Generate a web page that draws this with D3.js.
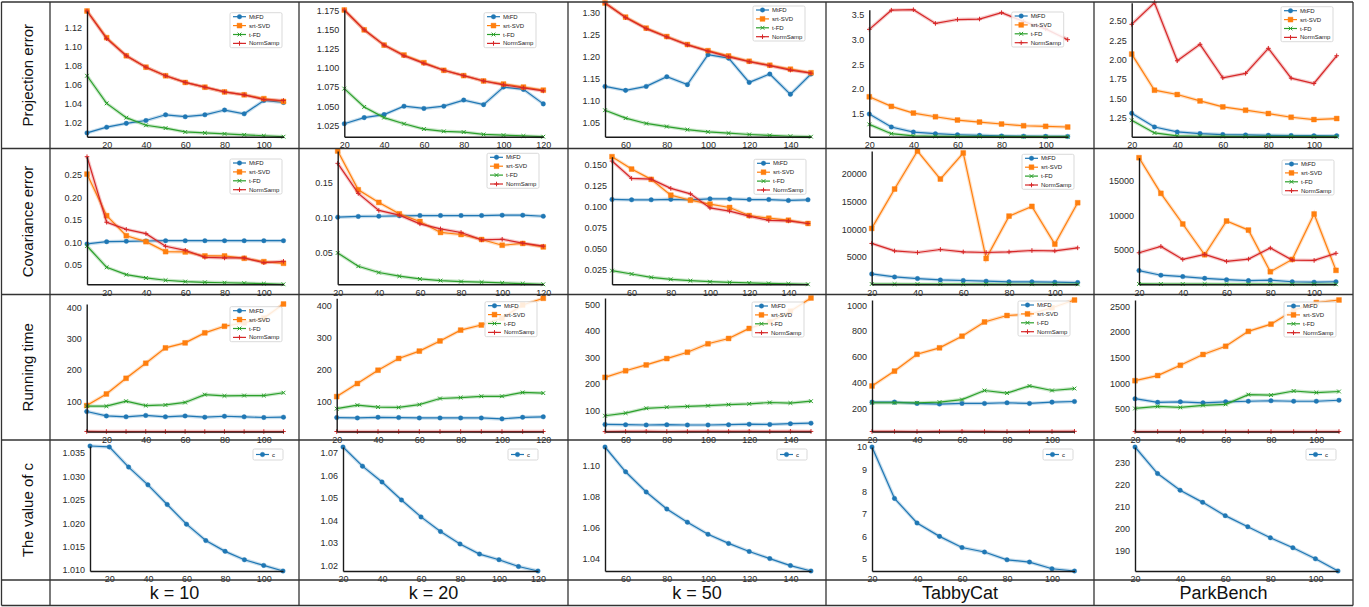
<!DOCTYPE html>
<html>
<head>
<meta charset="utf-8">
<script src="https://cdn.jsdelivr.net/npm/d3@7"></script>
<style>
  body { margin: 0; background: #fff; }
  svg text { font-family: "Liberation Sans", Arial, sans-serif; }
</style>
</head>
<body>
<div id="chart"></div>
<script>
const width = 1369, height = 607;

// ---- data ----
const rowNames = ["Projection error", "Covariance error", "Running time", "The value of c"];
const colNames = ["k = 10", "k = 20", "k = 50", "TabbyCat", "ParkBench"];
const methods = ["MtFD", "srt-SVD", "t-FD", "NormSamp"];

const xK10 = [10, 20, 30, 40, 50, 60, 70, 80, 90, 100, 110];
const xK20 = [20, 30, 40, 50, 60, 70, 80, 90, 100, 110, 120];
const xK50 = [50, 60, 70, 80, 90, 100, 110, 120, 130, 140, 150];
const xTabby = [20, 30, 40, 50, 60, 70, 80, 90, 100, 110];
const xPark = [20, 30, 40, 50, 60, 70, 80, 90, 100, 110];

// series order: MtFD, srt-SVD, t-FD, NormSamp
const projK10 = [
  [1.009, 1.015, 1.019, 1.022, 1.028, 1.026, 1.028, 1.033, 1.029, 1.043, 1.041],
  [1.137, 1.109, 1.090, 1.078, 1.069, 1.062, 1.057, 1.052, 1.049, 1.045, 1.042],
  [1.069, 1.040, 1.025, 1.017, 1.014, 1.010, 1.009, 1.008, 1.007, 1.006, 1.005],
  [1.137, 1.108, 1.090, 1.078, 1.069, 1.062, 1.057, 1.052, 1.049, 1.044, 1.043]
];
const projK20 = [
  [1.027, 1.035, 1.039, 1.050, 1.047, 1.050, 1.058, 1.052, 1.075, 1.072, 1.053],
  [1.176, 1.150, 1.130, 1.117, 1.107, 1.097, 1.090, 1.083, 1.079, 1.075, 1.071],
  [1.073, 1.049, 1.035, 1.027, 1.020, 1.017, 1.016, 1.013, 1.012, 1.011, 1.010],
  [1.176, 1.150, 1.130, 1.116, 1.106, 1.097, 1.090, 1.083, 1.078, 1.074, 1.070]
];
const projK50 = [
  [1.133, 1.124, 1.133, 1.155, 1.137, 1.205, 1.197, 1.142, 1.161, 1.115, 1.161],
  [1.322, 1.290, 1.265, 1.246, 1.228, 1.214, 1.202, 1.190, 1.181, 1.172, 1.164],
  [1.079, 1.061, 1.049, 1.042, 1.035, 1.030, 1.027, 1.024, 1.022, 1.020, 1.019],
  [1.322, 1.289, 1.264, 1.245, 1.227, 1.213, 1.200, 1.189, 1.180, 1.170, 1.163]
];
const projTabby = [
  [1.486, 1.222, 1.120, 1.086, 1.065, 1.052, 1.040, 1.035, 1.032, 1.030],
  [1.837, 1.642, 1.506, 1.431, 1.364, 1.323, 1.283, 1.248, 1.236, 1.222],
  [1.276, 1.086, 1.040, 1.032, 1.030, 1.028, 1.027, 1.026, 1.025, 1.025],
  [3.21, 3.60, 3.61, 3.33, 3.41, 3.42, 3.55, 3.37, 3.22, 3.00]
];
const projPark = [
  [1.306, 1.128, 1.064, 1.043, 1.030, 1.025, 1.020, 1.017, 1.015, 1.014],
  [2.072, 1.604, 1.548, 1.465, 1.388, 1.345, 1.302, 1.254, 1.224, 1.237],
  [1.215, 1.051, 1.012, 1.008, 1.005, 1.004, 1.003, 1.003, 1.002, 1.002],
  [2.457, 2.737, 1.985, 2.198, 1.765, 1.822, 2.146, 1.760, 1.691, 2.050]
];

const covK10 = [
  [0.0967, 0.1018, 0.1026, 0.1033, 0.104, 0.104, 0.104, 0.104, 0.104, 0.104, 0.104],
  [0.252, 0.1596, 0.115, 0.1018, 0.0796, 0.0789, 0.070, 0.070, 0.0648, 0.0574, 0.0537],
  [0.0922, 0.0448, 0.0285, 0.0211, 0.016, 0.013, 0.0115, 0.0105, 0.0095, 0.0085, 0.007],
  [0.2907, 0.145, 0.129, 0.1196, 0.0915, 0.0826, 0.067, 0.0656, 0.0656, 0.055, 0.058]
];
const covK20 = [
  [0.1007, 0.1017, 0.102, 0.1026, 0.103, 0.103, 0.103, 0.103, 0.1035, 0.1035, 0.102],
  [0.1945, 0.1395, 0.1216, 0.1054, 0.0946, 0.079, 0.0761, 0.069, 0.0609, 0.0634, 0.0585],
  [0.050, 0.0311, 0.0222, 0.017, 0.0131, 0.0108, 0.0094, 0.0085, 0.0075, 0.0065, 0.0055],
  [0.177, 0.1344, 0.1102, 0.1036, 0.0912, 0.0841, 0.079, 0.0685, 0.0694, 0.0638, 0.0595]
];
const covK50 = [
  [0.1089, 0.1085, 0.1085, 0.109, 0.1085, 0.1096, 0.1095, 0.1088, 0.1088, 0.1077, 0.1085],
  [0.160, 0.1452, 0.1329, 0.114, 0.108, 0.1033, 0.0993, 0.0897, 0.0865, 0.0841, 0.0802],
  [0.0238, 0.0198, 0.0158, 0.0134, 0.0118, 0.0106, 0.0098, 0.0091, 0.0085, 0.0081, 0.0075],
  [0.1548, 0.134, 0.1332, 0.1221, 0.1156, 0.0988, 0.0949, 0.0889, 0.0838, 0.0833, 0.0802]
];
const covTabby = [
  [1910, 1370, 1070, 830, 720, 600, 470, 470, 410, 350],
  [10150, 17280, 24170, 19090, 23810, 4700, 12380, 14140, 7300, 14800],
  [80, 70, 60, 55, 50, 45, 40, 38, 35, 30],
  [7430, 6080, 5790, 6330, 5900, 5790, 5900, 6150, 6080, 6630]
];
const covPark = [
  [2040, 1370, 1170, 920, 730, 590, 650, 430, 370, 430],
  [18320, 13180, 8760, 4320, 9190, 7880, 1870, 3650, 10200, 2070],
  [110, 100, 95, 90, 85, 80, 75, 70, 65, 60],
  [4610, 5530, 3650, 4380, 3370, 3700, 5290, 3560, 3510, 4530]
];

const timeK10 = [
  [67, 53, 50, 54.5, 50, 53, 49, 52, 50, 48, 49],
  [86, 123, 173, 221, 270, 286, 318, 339, 350, 365, 410],
  [84, 84, 100, 86, 88, 96, 121, 117, 118, 118, 127],
  [3.5, 3.2, 3.1, 3.3, 3.0, 3.2, 3.1, 3.2, 3.0, 3.1, 3.2]
];
const timeK20 = [
  [49, 48, 50, 49, 48, 48, 48, 48, 45, 50, 51.5],
  [115, 156, 198, 235, 258, 290, 324, 340, 362, 403, 424],
  [77, 88, 82, 81, 90, 109, 112, 116, 116, 128, 126],
  [5.3, 5.1, 5.2, 5.0, 5.2, 5.1, 5.3, 5.2, 5.1, 5.2, 5.3]
];
const timeK50 = [
  [47, 46, 45, 46, 45, 45, 46, 48, 47, 50, 52],
  [225, 250, 272, 296, 320, 352, 372, 410, 435, 475, 525],
  [80, 90, 108, 112, 115, 118, 122, 125, 130, 128, 135],
  [20, 20.5, 21, 20.3, 20.6, 21, 20.8, 21.2, 20.5, 21, 20.7]
];
const timeTabby = [
  [250, 250, 240, 235, 240, 240, 245, 240, 250, 255],
  [375, 490, 620, 670, 760, 870, 920, 930, 980, 1040],
  [245, 245, 245, 250, 270, 340, 320, 375, 340, 355],
  [23, 23, 22, 23, 24, 23, 22, 23, 23, 24]
];
const timePark = [
  [700, 630, 640, 620, 640, 650, 660, 650, 650, 670],
  [1050, 1150, 1350, 1560, 1720, 2010, 2150, 2420, 2570, 2620],
  [510, 550, 530, 570, 590, 780, 770, 850, 820, 840],
  [60, 62, 61, 60, 62, 61, 60, 61, 62, 61]
];

const cK10 = [1.0365, 1.0363, 1.032, 1.0282, 1.024, 1.0198, 1.0163, 1.014, 1.0122, 1.011, 1.0098];
const cK20 = [1.0725, 1.064, 1.057, 1.049, 1.0415, 1.035, 1.0295, 1.025, 1.0225, 1.0195, 1.0175];
const cK50 = [1.112, 1.096, 1.083, 1.072, 1.0635, 1.0557, 1.0498, 1.0446, 1.040, 1.0355, 1.032];
const cTabby = [10.0, 7.7, 6.6, 6.0, 5.5, 5.3, 4.95, 4.85, 4.55, 4.45];
const cPark = [237, 225, 217.5, 212, 206, 201, 196, 191.5, 186.5, 181];

// tick values
const xTicksK10 = [20, 40, 60, 80, 100];
const xTicksK20 = [20, 40, 60, 80, 100, 120];
const xTicksK50 = [60, 80, 100, 120, 140];
const xTicksData = [20, 40, 60, 80, 100];

const yTicks = [
  [[1.02, 1.04, 1.06, 1.08, 1.10, 1.12], [1.025, 1.05, 1.075, 1.1, 1.125, 1.15, 1.175], [1.05, 1.1, 1.15, 1.2, 1.25, 1.3], [1.5, 2, 2.5, 3, 3.5], [1.25, 1.5, 1.75, 2, 2.25, 2.5]],
  [[0.05, 0.1, 0.15, 0.2, 0.25], [0.05, 0.1, 0.15], [0.025, 0.05, 0.075, 0.1, 0.125, 0.15], [5000, 10000, 15000, 20000], [5000, 10000, 15000]],
  [[100, 200, 300, 400], [100, 200, 300, 400], [100, 200, 300, 400, 500], [200, 400, 600, 800, 1000], [500, 1000, 1500, 2000, 2500]],
  [[1.010, 1.015, 1.020, 1.025, 1.030, 1.035], [1.02, 1.03, 1.04, 1.05, 1.06, 1.07], [1.04, 1.06, 1.08, 1.10], [5, 6, 7, 8, 9, 10], [190, 200, 210, 220, 230]]
];
const yFormats = [
  [".2f", ".3f", ".2f", ".1f", ".2f"],
  [".2f", ".2f", ".3f", "d", "d"],
  ["d", "d", "d", "d", "d"],
  [".3f", ".2f", ".2f", "d", "d"]
];

const xValues = [xK10, xK20, xK50, xTabby, xPark];
const xTicks = [xTicksK10, xTicksK20, xTicksK50, xTicksData, xTicksData];
const seriesGrid = [
  [projK10, projK20, projK50, projTabby, projPark],
  [covK10, covK20, covK50, covTabby, covPark],
  [timeK10, timeK20, timeK50, timeTabby, timePark],
  [[cK10], [cK20], [cK50], [cTabby], [cPark]]
];

// ---- layout (pixels) ----
const colLines = [1.5, 50, 299, 568, 826, 1094, 1353];
const rowLines = [2, 148.5, 294.5, 440, 580, 605.5];
const plotLeft = [
  [87, 344.3, 605, 869.3, 1131.7],
  [87, 337.7, 612, 871.7, 1139],
  [86.7, 336.7, 605, 872, 1135],
  [90, 343, 605, 872, 1135]
];
const plotRight = [
  [283.5, 543.3, 811, 1067.7, 1336.7],
  [283.5, 543.3, 808, 1077.7, 1336],
  [283.5, 543.3, 811, 1074.5, 1339],
  [283, 538, 811, 1074.5, 1338]
];
const plotTop = [
  [11, 10, 3, 9.7, 2.7],
  [156.7, 151, 156.7, 151, 157.7],
  [304, 298.3, 298, 300, 300],
  [446, 447, 447, 447, 447]
];
const plotBottom = [136.7, 284.3, 431.6, 571];
const legendPos = [
  [[230, 12.7], [484, 12.7], [753, 6], [1011.7, 12], [1281, 6.7]],
  [[230, 159], [487, 153.3], [754, 159.3], [1022, 154.3], [1282, 160]],
  [[230, 306.7], [485, 301.7], [752, 302], [1018, 301], [1284, 302]],
  [[253, 449], [508, 449], [777, 449], [1043, 449], [1306, 449]]
];

const colors = ["#1f77b4", "#ff7f0e", "#2ca02c", "#d62728"];
const symbols = [d3.symbolCircle, d3.symbolSquare, d3.symbolX, d3.symbolPlus];
const symbolSizes = [16, 24, 11, 8];
const strokeSymbol = [false, false, true, true];

const svg = d3.select("#chart").append("svg")
  .attr("width", width)
  .attr("height", height);

function drawMarkers(g, xs, ys, k) {
  const sym = d3.symbol().type(symbols[k]).size(symbolSizes[k]);
  g.selectAll(null)
    .data(xs.map((d, i) => [d, ys[i]]))
    .join("path")
    .attr("transform", d => `translate(${d[0]},${d[1]})`)
    .attr("d", sym())
    .attr("fill", strokeSymbol[k] ? "none" : colors[k])
    .attr("stroke", colors[k])
    .attr("stroke-width", strokeSymbol[k] ? 1 : 0.4);
}

function drawLegend(g, x0, y0, names) {
  const w = names.length > 1 ? 52 : 30;
  const h = names.length > 1 ? 35 : 11;
  const lg = g.append("g").attr("transform", `translate(${x0},${y0})`);
  lg.append("rect")
    .attr("width", w).attr("height", h).attr("rx", 1.5)
    .attr("fill", "#fff").attr("fill-opacity", 0.85)
    .attr("stroke", "#cfcfcf").attr("stroke-width", 0.8);
  names.forEach((name, i) => {
    const yy = names.length > 1 ? 4 + i * 8.9 : 5.5;
    lg.append("line")
      .attr("x1", 3).attr("x2", 16).attr("y1", yy).attr("y2", yy)
      .attr("stroke", colors[i]).attr("stroke-width", 1.2);
    drawMarkers(lg, [9.5], [yy], i);
    lg.append("text")
      .attr("x", 19).attr("y", yy)
      .attr("dy", "0.35em")
      .attr("font-size", 6)
      .attr("fill", "#222")
      .text(name);
  });
}

seriesGrid.forEach((rowSeries, r) => {
  rowSeries.forEach((series, c) => {
    const xs = xValues[c];
    const B = plotBottom[r];
    const xScale = d3.scaleLinear()
      .domain(d3.extent(xs))
      .range([plotLeft[r][c], plotRight[r][c]]);
    const yScale = d3.scaleLinear()
      .domain(d3.extent(series.flat()))
      .range([B, plotTop[r][c]]);

    const g = svg.append("g").attr("class", "panel");

    const line = d3.line()
      .x((d, i) => xScale(xs[i]))
      .y(d => yScale(d));

    series.forEach((vals, k) => {
      g.append("path")
        .attr("d", line(vals))
        .attr("fill", "none")
        .attr("stroke", colors[k])
        .attr("stroke-opacity", 0.25)
        .attr("stroke-width", 3.5);
      g.append("path")
        .attr("d", line(vals))
        .attr("fill", "none")
        .attr("stroke", colors[k])
        .attr("stroke-width", 1.2);
      drawMarkers(g, xs.map(d => xScale(d)), vals.map(d => yScale(d)), k);
    });

    const xAxis = d3.axisBottom(xScale).tickValues(xTicks[c]).tickSize(0).tickSizeOuter(0).tickPadding(5);
    const yAxis = d3.axisLeft(yScale).tickValues(yTicks[r][c]).tickSize(0).tickSizeOuter(0).tickPadding(5)
      .tickFormat(d3.format(yFormats[r][c]));

    const gx = g.append("g")
      .attr("transform", `translate(0,${B})`)
      .call(xAxis);
    const gy = g.append("g")
      .attr("transform", `translate(${plotLeft[r][c]},0)`)
      .call(yAxis);
    [gx, gy].forEach(ax => {
      ax.attr("font-family", null).attr("font-size", 9);
      ax.select(".domain").attr("stroke", "#1a1a1a").attr("stroke-width", 1.4);
      ax.selectAll("text").attr("fill", "#2a2a2a");
    });

    const names = r === 3 ? ["c"] : methods;
    drawLegend(g, legendPos[r][c][0], legendPos[r][c][1], names);
  });
});

// row labels
rowNames.forEach((name, r) => {
  const cy = (rowLines[r] + rowLines[r + 1]) / 2;
  svg.append("text")
    .attr("transform", `translate(28,${cy}) rotate(-90)`)
    .attr("text-anchor", "middle")
    .attr("dy", "0.35em")
    .attr("font-size", 15)
    .attr("fill", "#111")
    .text(name);
});

// column labels
colNames.forEach((name, c) => {
  svg.append("text")
    .attr("x", (colLines[c + 1] + colLines[c + 2]) / 2)
    .attr("y", 593)
    .attr("text-anchor", "middle")
    .attr("dy", "0.35em")
    .attr("font-size", 18)
    .attr("fill", "#111")
    .text(name);
});

// table grid
const grid = svg.append("g").attr("stroke", "#333").attr("stroke-width", 1.3);
rowLines.forEach(y => {
  grid.append("line").attr("x1", colLines[0]).attr("x2", colLines[colLines.length - 1]).attr("y1", y).attr("y2", y);
});
colLines.forEach(x => {
  grid.append("line").attr("x1", x).attr("x2", x).attr("y1", rowLines[0]).attr("y2", rowLines[rowLines.length - 1]);
});
</script>
</body>
</html>
